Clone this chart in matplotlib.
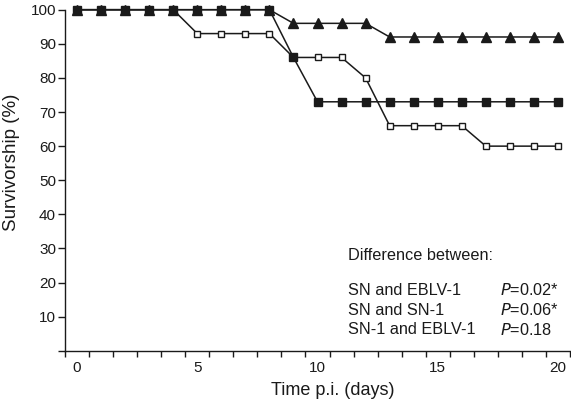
import matplotlib

matplotlib.use("Agg")
import matplotlib.pyplot as plt
import numpy as np

plt.rcParams["font.family"] = ["Liberation Sans", "DejaVu Sans"]

# survival data (%)
days = list(range(21))
sn_eblv1_tri = [100] * 9 + [96, 96, 96, 96] + [92] * 8
filled_sq = [100] * 9 + [86] + [73] * 11
open_sq = [100] * 5 + [93] * 4 + [86, 86, 86, 80] + [66] * 4 + [60] * 4

comparisons = ["SN and EBLV-1", "SN and SN-1", "SN-1 and EBLV-1"]
p_values = ["0.02*", "0.06*", "0.18"]

INK = "#1a1a1a"

fig = plt.figure(figsize=(5.71, 4.05), dpi=100)
ax = fig.add_axes([65 / 571, 1 - 350.8 / 405, 505 / 571, (350.8 - 9.7) / 405])

ax.plot(days, sn_eblv1_tri, color=INK, lw=1.1, marker="^", ms=6.5,
        mfc=INK, mec=INK, clip_on=False, zorder=3)
ax.plot(days, open_sq, color=INK, lw=1.1, marker="s", ms=5.0,
        mfc="white", mec=INK, mew=1.0, clip_on=False, zorder=4)
ax.plot(days, filled_sq, color=INK, lw=1.1, marker="s", ms=5.8,
        mfc=INK, mec=INK, clip_on=False, zorder=5)

ax.set_xlim(-0.5, 20.5)
ax.set_ylim(0, 100)

ax.set_xticks([0, 5, 10, 15, 20])
ax.set_xticks(np.arange(-0.5, 21, 1.0), minor=True)
ax.tick_params(axis="x", which="major", length=0, pad=7, labelsize=11, colors=INK)
ax.tick_params(axis="x", which="minor", length=4, width=1.0, color=INK)

ax.set_yticks(range(0, 101, 10))
ax.set_yticklabels([""] + [str(v) for v in range(10, 101, 10)])
ax.tick_params(axis="y", length=5, width=1.0, pad=1.5, labelsize=11, colors=INK)

for side in ("top", "right"):
    ax.spines[side].set_visible(False)
for side in ("left", "bottom"):
    ax.spines[side].set_linewidth(1.0)
    ax.spines[side].set_color(INK)

ax.set_ylabel("Survivorship (%)", fontsize=13.5, color=INK)
ax.yaxis.set_label_coords(-0.089, 0.553)
ax.set_xlabel("Time p.i. (days)", fontsize=13, color=INK)
ax.xaxis.set_label_coords(0.53, -0.092)

ax.text(11.25, 27.8, "Difference between:", fontsize=11.7, color=INK, va="center")
for i, (name, p) in enumerate(zip(comparisons, p_values)):
    y = 17.8 - i * 5.85
    ax.text(11.25, y, name, fontsize=11.7, color=INK, va="center")
    ax.text(17.6, y, r"$\it{P}$" + "=" + p, fontsize=11.7, color=INK, va="center")

fig.savefig("out.png", dpi=100)
